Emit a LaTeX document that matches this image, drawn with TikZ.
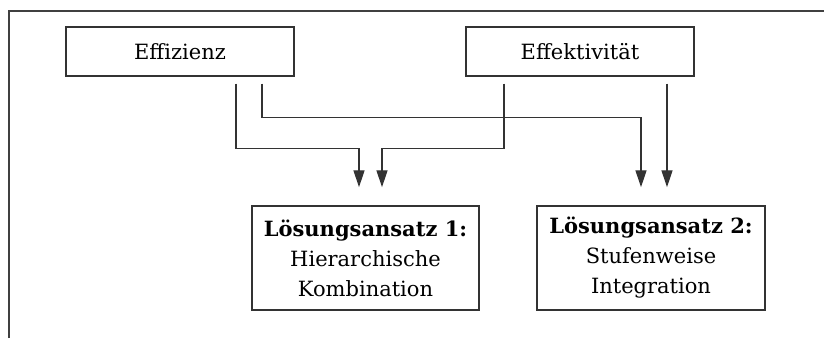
\documentclass[tikz,border=0pt]{standalone}
\usepackage[svgnames]{xcolor}
\usepackage{fontspec}
\setmainfont{DejaVu Serif}
\usetikzlibrary{arrows.meta}

\begin{document}
\begin{tikzpicture}[x=1pt, y=1pt,
  kasten/.style={draw=black!80, line width=1.5pt, minimum width=228pt, minimum height=49pt,
    inner sep=0pt, font=\fontsize{21}{30}\selectfont},
  ansatz/.style={kasten, minimum height=104pt, align=center},
  pfeil/.style={draw=black!80, line width=1.4pt, -{Triangle[length=17pt, width=11pt]}}]
\useasboundingbox (0,0) rectangle (824,338);%画像全体の大きさ
\draw [line width=1.5pt, black!75] (9,0) -- (9,327) -- (824,327);
   %左と上だけの"外枠"

%%上の二つの箱
\node [kasten] (eff) at (180,286.5) {Effizienz};
\node [kasten] (efk) at (580,286.5) {Effektivität};

%%下の二つの箱
\node [ansatz, minimum width=227pt] (los1) at (365.5,80)
   {\textbf{Lösungsansatz 1:}\\Hierarchische\\Kombination};
\node [ansatz] (los2) at (651,80)
   {\textbf{Lösungsansatz 2:}\\Stufenweise\\Integration};

%%矢印の始点と終点
\coordinate (e1) at ([xshift=56pt, yshift=-7pt]eff.south);
\coordinate (e2) at ([xshift=82pt, yshift=-7pt]eff.south);
\coordinate (k1) at ([xshift=-76pt, yshift=-7pt]efk.south);
\coordinate (k2) at ([xshift=87pt, yshift=-7pt]efk.south);
\coordinate (z1) at ([xshift=-6.5pt, yshift=18pt]los1.north);
\coordinate (z2) at ([xshift=16.5pt, yshift=18pt]los1.north);
\coordinate (z3) at ([xshift=-10pt, yshift=18pt]los2.north);
\coordinate (z4) at ([xshift=16pt, yshift=18pt]los2.north);

%%矢印
\draw [pfeil] (e1) -- ++(0,-65) -| (z1);
\draw [pfeil] (e2) -- ++(0,-34) -| (z3);
\draw [pfeil] (k1) -- ++(0,-65) -| (z2);
\draw [pfeil] (k2) -- (z4);
\end{tikzpicture}
\end{document}
